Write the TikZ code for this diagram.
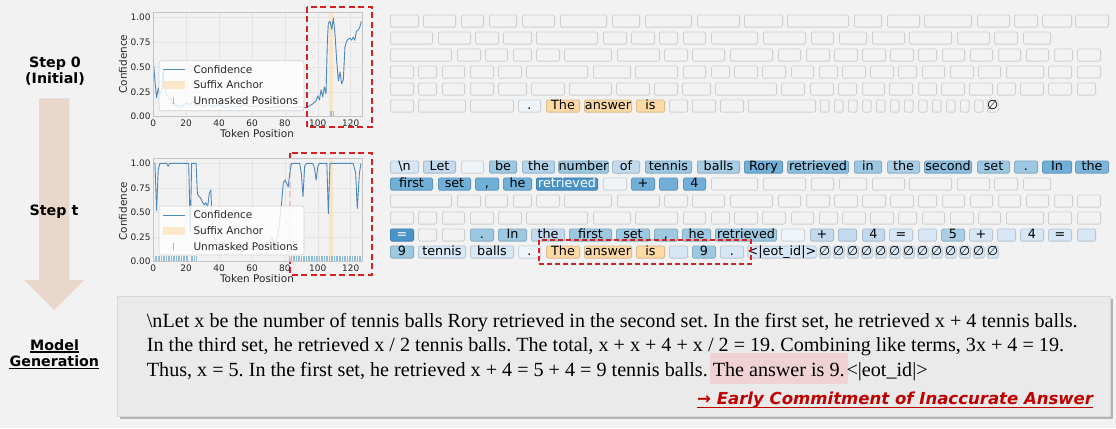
\documentclass[tikz,border=0pt]{standalone}
\usepackage{fontspec}
\setmainfont{Liberation Serif}
\newfontfamily\dv{DejaVu Sans}[BoldFont={DejaVu Sans Bold},ItalicFont={DejaVu Sans Oblique},BoldItalicFont={DejaVu Sans Bold Oblique}]
\definecolor{bg}{HTML}{F2F2F2}
\definecolor{mk}{HTML}{F2F2F2}
\definecolor{vl}{HTML}{EFF4F9}
\definecolor{c1}{HTML}{D8E7F5}
\definecolor{c2}{HTML}{C2D9EE}
\definecolor{c2b}{HTML}{B3D3EA}
\definecolor{c3}{HTML}{9DC8E2}
\definecolor{c3b}{HTML}{A9CEE5}
\definecolor{c35}{HTML}{8CBEDF}
\definecolor{c4}{HTML}{70AFD8}
\definecolor{c4b}{HTML}{7DB5DA}
\definecolor{c5}{HTML}{4A94C8}
\definecolor{orng}{HTML}{FCD9A5}
\definecolor{curve}{HTML}{4C88BC}
\definecolor{ddred}{HTML}{D42222}
\definecolor{arrowc}{HTML}{EAD7CC}
\definecolor{boxbg}{HTML}{EAEAEA}
\definecolor{hl}{HTML}{F0D2D5}
\definecolor{annred}{HTML}{C00000}
\definecolor{gridc}{HTML}{E4E4E4}
\definecolor{framec}{HTML}{C4C4C4}
\definecolor{bandc}{HTML}{FBE0B4}
\definecolor{umkc}{HTML}{8FBEDF}
\newcount\tkc
\newcommand\rowy{0}
\newcommand\T[5][]{\global\advance\tkc by 1\relax
  \node[tok,fill=#4,draw=#4!86!black,minimum width={((#3)-(#2))*1bp-0.8bp},#1] (tok\the\tkc) at ({((#2)+(#3))/2},\rowy) {#5};}
\frenchspacing
\begin{document}
\begin{tikzpicture}[x=1bp,y=-1bp,
  tok/.style={rectangle,rounded corners=1.5bp,line width=0.8bp,minimum height=12.2bp,inner sep=0pt,
    font=\dv\fontsize{12.8}{12.8}\selectfont,text height=9.8bp,text depth=2.4bp},
  ticklab/.style={font=\dv\fontsize{9}{9}\selectfont,inner sep=0pt,text=black!85},
  axlab/.style={font=\dv\fontsize{10.5}{10.5}\selectfont,inner sep=0pt,text=black!85},
  legtext/.style={font=\dv\fontsize{10.5}{10.5}\selectfont,inner sep=0pt,text=black!85,anchor=west},
  conf/.style={draw=curve,line width=0.9bp,line join=round},
  gridl/.style={draw=gridc,line width=0.6bp},
  axframe/.style={draw=framec,line width=0.7bp},
  band/.style={fill=bandc,fill opacity=0.7},
  umk/.style={draw=umkc,line width=0.8bp},
  legbox/.style={fill=white,fill opacity=0.8,draw=black!18,line width=0.6bp,rounded corners=2.5bp},
  redbox/.style={draw=ddred,line width=2.2bp,dash pattern=on 6bp off 3.5bp},
  lab/.style={font=\dv\bfseries\fontsize{14.3}{14.3}\selectfont,inner sep=0pt,align=center},
  txt/.style={font=\fontsize{20.2}{24}\selectfont,inner sep=0pt,anchor=base west}
]
\useasboundingbox (0,0) rectangle (1116,428);
\fill[bg] (0,0) rectangle (1116,428);

% ---------------- left column ----------------
\fill[arrowc] (39,98.3) -- (69.3,98.3) -- (69.3,280) -- (84.3,280) -- (54.2,310) -- (24,280) -- (39,280) -- cycle;
\node[lab] (s0) at (55,71) {Step 0\\[1.5bp](Initial)};
\node[lab] (st) at (54,211.7) {Step t};
\node[lab,anchor=base] (mg1) at (54.6,350) {Model};
\node[lab,anchor=base] (mg2) at (54.4,366.5) {Generation};
\draw[line width=1.2bp] ([yshift=-2bp]mg1.base west) -- ([yshift=-2bp]mg1.base east);
\draw[line width=1.2bp] ([yshift=-2bp]mg2.base west) -- ([yshift=-2bp]mg2.base east);

% ---------------- plot 1 (step 0) ----------------
\begin{scope}[shift={(153.3,116.7)},x=1.645bp,y=99.4bp]
 \fill[bg] (0,0) rectangle (127,1.05);
 \foreach \g in {0,20,...,120} \draw[gridl] (\g,0) -- (\g,1.05);
 \foreach \g in {0,0.25,0.5,0.75,1} \draw[gridl] (0,\g) -- (127,\g);
 \fill[band] (107,0) rectangle (109.5,1.05);
 \draw[conf] plot coordinates {(0,0.57) (1,0.36) (2,0.19) (3,0.29) (4,0.22) (5,0.26) (6,0.47) (7,0.3) (8,0.22) (9,0.2) (10,0.17) (11,0.18) (12,0.12) (13,0.14) (14,0.1) (15,0.12) (16,0.09) (18,0.11) (20,0.14) (22,0.12) (24,0.15) (26,0.11) (28,0.13) (30,0.1) (33,0.12) (36,0.1) (40,0.12) (44,0.09) (48,0.11) (52,0.1) (56,0.12) (60,0.1) (65,0.11) (70,0.09) (75,0.1) (80,0.11) (85,0.09) (90,0.1) (93,0.09) (95,0.11) (97,0.13) (99,0.16) (100,0.21) (101,0.17) (102,0.27) (103,0.2) (104,0.3) (105,0.23) (105.8,0.75) (106.4,0.94) (107.4,0.96) (108.5,0.88) (109.5,0.99) (110.5,0.82) (111.5,0.56) (112.5,0.36) (113.5,0.45) (114.5,0.33) (115.5,0.37) (116.5,0.7) (117.5,0.76) (118.5,0.78) (119.5,0.79) (120.5,0.77) (121.5,0.8) (122.5,0.77) (123.5,0.86) (124.5,0.87) (125.5,0.9) (126.5,0.96)};
 \foreach \p in {107.4,108.4,109.4} \draw[umk] (\p,0.01) -- (\p,0.06);
 \draw[axframe] (0,0) rectangle (127,1.05);
 \foreach \g in {0,20,...,120} \node[ticklab,anchor=north] (pax\g) at (\g,-0.033) {\g};
 \foreach \g/\l/\i in {0/0.00/0,0.25/0.25/1,0.5/0.50/2,0.75/0.75/3,1/1.00/4} \node[ticklab,anchor=east] (pay\i) at (-1.6,\g) {\l};
\end{scope}
\node[axlab,rotate=90] (yl1) at (123,64) {Confidence};
\node[axlab] (xl1) at (257,133.3) {Token Position};
\draw[legbox] (159,60.7) rectangle (304,110.7);
\draw[conf] (163,69.3) -- (185,69.3);
\fill[band] (163,80.5) rectangle (185,89);
\draw[umk] (173.5,96.7) -- (173.5,104);
\node[legtext] (lg1a) at (193.3,69.3) {Confidence};
\node[legtext] (lg1b) at (193.3,85) {Suffix Anchor};
\node[legtext] (lg1c) at (193.3,100.5) {Unmasked Positions};
\draw[redbox] (306.7,6.7) rectangle (371.7,127.3);

% ---------------- plot 2 (step t) ----------------
\draw[redbox] (290,153.3) rectangle (371.7,275);
\begin{scope}[shift={(153.3,261.7)},x=1.645bp,y=98.4bp]
 \fill[bg,fill opacity=0.8] (0,0) rectangle (127,1.05);
 \foreach \g in {0,20,...,120} \draw[gridl] (\g,0) -- (\g,1.05);
 \foreach \g in {0,0.25,0.5,0.75,1} \draw[gridl] (0,\g) -- (127,\g);
 \fill[band] (107,0) rectangle (109.5,1.05);
 \draw[conf] plot coordinates {(0,1) (1,1) (2,0.52) (3,0.93) (4,1) (8,1) (9,0.97) (10,1) (21.5,1) (22.5,0.3) (23.3,1) (26,1) (26.8,0.69) (28,0.66) (29,0.64) (30,0.6) (31,0.58) (32,0.6) (33,0.55) (34,0.69) (35,0.73) (36,0.3) (38,0.2) (40,0.15) (43,0.2) (46,0.12) (50,0.15) (54,0.1) (58,0.14) (62,0.12) (66,0.16) (70,0.2) (72,0.25) (74,0.15) (76,0.3) (78,0.6) (79,0.8) (80,0.83) (81,0.8) (82,0.76) (83,0.9) (84,1) (89,1) (90,0.9) (91,0.66) (92,0.97) (93,1) (97,1) (98,0.95) (99,0.83) (100,0.97) (101,1) (105.5,1) (106.4,0.49) (107.4,1) (121.5,1) (123,0.9) (124,0.54) (125.3,0.9) (126.3,1)};
 \foreach \p in {1,...,21} \draw[umk] (\p,0.01) -- (\p,0.06);
 \foreach \p in {23,...,26} \draw[umk] (\p,0.01) -- (\p,0.06);
 \foreach \p in {83,...,126} \draw[umk] (\p,0.01) -- (\p,0.06);
 \draw[axframe] (0,0) rectangle (127,1.05);
 \foreach \g in {0,20,...,120} \node[ticklab,anchor=north] (pbx\g) at (\g,-0.033) {\g};
 \foreach \g/\l/\i in {0/0.00/0,0.25/0.25/1,0.5/0.50/2,0.75/0.75/3,1/1.00/4} \node[ticklab,anchor=east] (pby\i) at (-1.6,\g) {\l};
\end{scope}
\node[axlab,rotate=90] (yl2) at (123,211) {Confidence};
\node[axlab] (xl2) at (257,278.3) {Token Position};
\draw[legbox] (159,206) rectangle (304,255);
\draw[conf] (163,215) -- (185,215);
\fill[band] (163,226.5) rectangle (185,235);
\draw[umk] (173.5,243) -- (173.5,250.3);
\node[legtext] (lg2a) at (193.3,215) {Confidence};
\node[legtext] (lg2b) at (193.3,230.7) {Suffix Anchor};
\node[legtext] (lg2c) at (193.3,246.7) {Unmasked Positions};

% ---------------- token grid, step 0 ----------------
\renewcommand\rowy{21}
\foreach \a/\b in {390/419,423/456,461/484,489/517,522/555,560/607,612/640,645/692,697/740,744/783,787/849,854/882,887/920,924/972,977/1010,1014/1038,1042/1072,1075/1109}{\T{\a}{\b}{mk}{}}
\renewcommand\rowy{38}
\foreach \a/\b in {390/433,438/471,475/499,503/532,536/598,603/627,631/655,659/678,683/706,711/758,763/806,811/834,839/867,872/905,909/952,957/990,994/1018,1023/1051}{\T{\a}{\b}{mk}{}}
\renewcommand\rowy{55}
\foreach \a/\b in {390/452,457/481,485/508,513/532,536/560,564/612,617/660,664/688,692/725,730/773,778/801,806/830,834/858,862/886,890/914,918/937,942/965,970/993,998/1021,1026/1049,1054/1073,1077/1101}{\T{\a}{\b}{mk}{}}
\renewcommand\rowy{72}
\foreach \a/\b in {390/414,418/437,442/465,470/494,498/522,526/588,593/631,635/678,683/706,711/730,734/758,762/786,791/814,819/838,842/866,870/894,898/917,922/945,950/974,978/1001,1006/1044,1048/1072,1077/1101}{\T{\a}{\b}{mk}{}}
\renewcommand\rowy{89}
\foreach \a/\b in {390/414,418/437,442/465,470/494,498/527,531/565,569/612,616/650,654/678,682/711,715/777,781/805,810/834,838/857,862/885,889/913,918/937,941/965,969/993,997/1016,1020/1044,1048/1072,1077/1096}{\T{\a}{\b}{mk}{}}
\renewcommand\rowy{106}
\foreach \a/\b in {390/414,418/466,470/514}{\T{\a}{\b}{mk}{}}
\T{518}{541}{vl}{.}
\T{546}{580}{orng}{The}
\T{584}{632}{orng}{answer}
\T{636}{665}{orng}{is}
\foreach \a/\b in {669/688,692/716,720/744,748/816}{\T{\a}{\b}{mk}{}}
\foreach \k in {0,...,11}{\T{820+14*\k}{829.5+14*\k}{mk}{}}
\T{988}{997.5}{mk}{∅}

% ---------------- token grid, step t ----------------
\renewcommand\rowy{167}
\T{390}{419}{c1}{\textbackslash n}
\T{423}{456}{c2}{Let}
\T{461}{484}{vl}{}
\T{489}{517}{c3}{be}
\T{522}{555}{c2b}{the}
\T{560}{607}{c3}{number}
\T{612}{640}{c2}{of}
\T{645}{692}{c3}{tennis}
\T{697}{740}{c3b}{balls}
\T{744}{783}{c4}{Rory}
\T{787}{849}{c35}{retrieved}
\T{854}{882}{c3}{in}
\T{887}{920}{c3b}{the}
\T{924}{972}{c35}{second}
\T{977}{1010}{c3}{set}
\T{1014}{1038}{c3}{.}
\T{1042}{1072}{c4}{In}
\T{1075}{1109}{c4b}{the}
\renewcommand\rowy{184}
\T{390}{433}{c4}{first}
\T{438}{471}{c4}{set}
\T{475}{499}{c4}{,}
\T{503}{532}{c4}{he}
\T[text=white]{536}{598}{c5}{retrieved}
\T{603}{627}{vl}{}
\T{631}{655}{c4}{+}
\T{659}{678}{c4}{}
\T{683}{706}{c4}{4}
\foreach \a/\b in {711/758,763/806,811/834,839/867,872/905,909/952,957/990,994/1018,1023/1051}{\T{\a}{\b}{mk}{}}
\renewcommand\rowy{201}
\foreach \a/\b in {390/452,457/481,485/508,513/532,536/560,564/612,617/660,664/688,692/725,730/773,778/801,806/830,834/858,862/886,890/914,918/937,942/965,970/993,998/1021,1026/1049,1054/1073,1077/1101}{\T{\a}{\b}{mk}{}}
\renewcommand\rowy{218}
\foreach \a/\b in {390/414,418/437,442/465,470/494,498/522,526/588,593/631,635/678,683/706,711/730,734/758,762/786,791/814,819/838,842/866,870/894,898/917,922/945,950/974,978/1001,1006/1044,1048/1072,1077/1101}{\T{\a}{\b}{mk}{}}
\renewcommand\rowy{235}
\T[text=white]{390}{414}{c5}{=}
\T{418}{437}{mk}{}
\T{442}{465}{mk}{}
\T{470}{494}{c3}{.}
\T{498}{527}{c3}{In}
\T{531}{565}{c2}{the}
\T{569}{612}{c3}{first}
\T{616}{650}{c3}{set}
\T{654}{678}{c3}{,}
\T{682}{711}{c3}{he}
\T{715}{777}{c3}{retrieved}
\T{781}{805}{vl}{}
\T{810}{834}{c2}{+}
\T{838}{857}{c2}{}
\T{862}{885}{c2}{4}
\T{889}{913}{c1}{=}
\T{918}{937}{c1}{}
\T{941}{965}{c3b}{5}
\T{969}{993}{c1}{+}
\T{997}{1016}{c1}{}
\T{1020}{1044}{c1}{4}
\T{1048}{1072}{c1}{=}
\T{1077}{1096}{c1}{}
\renewcommand\rowy{252}
\T{390}{414}{c3}{9}
\T{418}{466}{c1}{tennis}
\T{470}{514}{c1}{balls}
\T{518}{541}{vl}{.}
\T{546}{580}{orng}{The}
\T{584}{632}{orng}{answer}
\T{636}{665}{orng}{is}
\T{669}{688}{c1}{}
\T{692}{716}{c3}{9}
\T{720}{744}{c1}{.}
\T{748}{816}{c1}{<|eot\_id|>}
\foreach \k in {0,...,12}{\T{820+14*\k}{829.5+14*\k}{c1}{∅}}
\draw[ddred,line width=1.7bp,dash pattern=on 5bp off 3bp] (539,240) rectangle (751,264);

% ---------------- bottom generation box ----------------
\fill[black!45,opacity=0.6] (119.5,298.5) rectangle (1112.5,418.5);
\draw[fill=boxbg,draw=black!15,line width=0.6bp] (117.3,296) rectangle (1110,416);
\node[txt] (l1) at (146.7,327) {\textbackslash nLet x be the number of tennis balls Rory retrieved in the second set. In the first set, he retrieved x + 4 tennis balls.};
\node[txt] (l2) at (146.7,351.5) {In the third set, he retrieved x / 2 tennis balls. The total, x + x + 4 + x / 2 = 19. Combining like terms, 3x + 4 = 19.};
\node[txt] (l3a) at (146.7,376) {Thus, x = 5. In the first set, he retrieved x + 4 = 5 + 4 = 9 tennis balls.};
\node[txt,fill=hl,inner xsep=3bp,inner ysep=4bp,text height=18.7bp,text depth=4bp] (l3b) at ([xshift=1.6bp]l3a.base east) {The answer is 9.};
\node[txt] (l3c) at ([xshift=-1.5bp]l3b.base east) {<|eot\_id|>};
\node[font=\dv\bfseries\itshape\fontsize{16.6}{16.6}\selectfont,text=annred,inner sep=0pt,anchor=base east] (ann) at (1093.3,404.5) {→ Early Commitment of Inaccurate Answer};
\draw[annred,line width=1.3bp] ([yshift=-3bp]ann.base west) -- ([yshift=-3bp]ann.base east);
\end{tikzpicture}
\end{document}
